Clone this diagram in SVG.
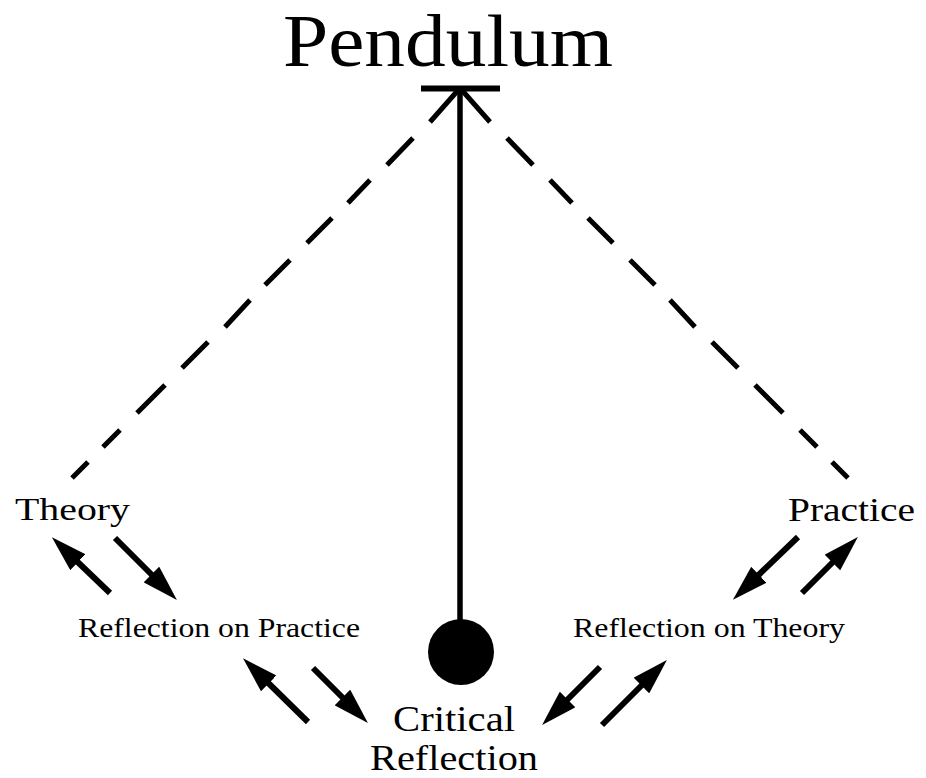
<svg xmlns="http://www.w3.org/2000/svg" width="926" height="778" viewBox="0 0 926 778">
<style>
.t{font-family:"Liberation Serif","Times New Roman",serif;fill:#000}
.dash{stroke:#000;stroke-width:5;fill:none;stroke-linecap:butt}
.arr{stroke:#000;stroke-width:6;fill:none;marker-end:url(#ah)}
</style>
<defs>
<marker id="ah" viewBox="0 -11 36 22" markerWidth="36" markerHeight="22" refX="22" refY="0" orient="auto" markerUnits="userSpaceOnUse">
<path d="M0,-11 L36,0 L0,11 z" fill="#000"/>
</marker>
</defs>
<rect width="926" height="778" fill="#fff"/>
<g id="connectors">
<path class="dash" d="M460,88 L430,122 M413,138 L387,165 M370,180 L348,203 M332,218 L307,243 M290,260 L265,285 M250,300 L225,327 M208,342 L182,368 M165,385 L137,413 M120,430 L103,447 M88,462 L72,478"/>
<path class="dash" d="M460,88 L490,122 M507,138 L533,165 M550,180 L572,203 M588,218 L613,243 M630,260 L655,285 M670,300 L695,327 M712,342 L738,368 M755,385 L783,413 M800,430 L817,447 M832,462 L848,478"/>
<line x1="460" y1="88" x2="460" y2="625" stroke="#000" stroke-width="5.5"/>
<line x1="421" y1="88.5" x2="500" y2="88.5" stroke="#000" stroke-width="6"/>
<line class="arr" x1="110" y1="593" x2="62" y2="547"/>
<line class="arr" x1="115" y1="538" x2="167" y2="590"/>
<line class="arr" x1="798" y1="537" x2="743" y2="590"/>
<line class="arr" x1="802" y1="593" x2="848" y2="547"/>
<line class="arr" x1="308" y1="722" x2="253" y2="668"/>
<line class="arr" x1="313" y1="668" x2="358" y2="713"/>
<line class="arr" x1="600" y1="667" x2="552" y2="715"/>
<line class="arr" x1="602" y1="725" x2="657" y2="670"/>
</g>
<g id="pendulum"><text class="t" x="283" y="66" font-size="74" textLength="330" lengthAdjust="spacingAndGlyphs">Pendulum</text></g>
<g id="bob"><circle cx="461" cy="652" r="33" fill="#000"/></g>
<g id="theory"><text class="t" x="15" y="520" font-size="32" textLength="115" lengthAdjust="spacingAndGlyphs">Theory</text></g>
<g id="practice"><text class="t" x="788" y="521" font-size="33" textLength="127" lengthAdjust="spacingAndGlyphs">Practice</text></g>
<g id="reflection-practice"><text class="t" x="78" y="637" font-size="27" textLength="282" lengthAdjust="spacingAndGlyphs">Reflection on Practice</text></g>
<g id="reflection-theory"><text class="t" x="573" y="637" font-size="27" textLength="272" lengthAdjust="spacingAndGlyphs">Reflection on Theory</text></g>
<g id="critical-reflection">
<text class="t" x="393" y="731" font-size="36" textLength="122" lengthAdjust="spacingAndGlyphs">Critical</text>
<text class="t" x="370" y="770" font-size="36" textLength="168" lengthAdjust="spacingAndGlyphs">Reflection</text>
</g>
</svg>
